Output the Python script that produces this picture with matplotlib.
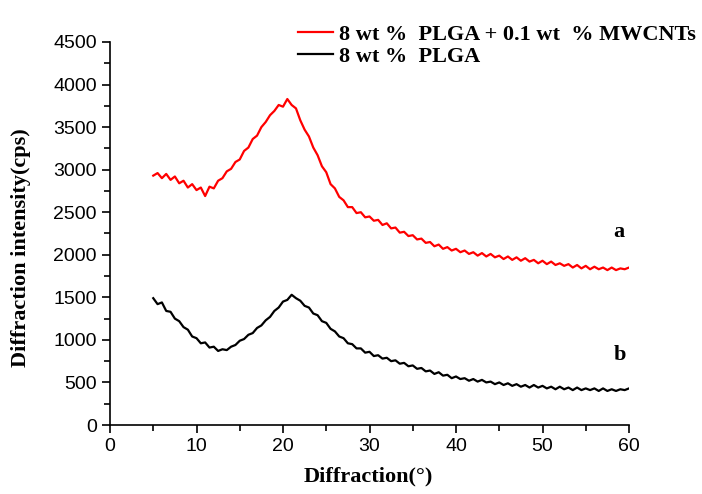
import numpy as np
import matplotlib
matplotlib.use("Agg")
import matplotlib.pyplot as plt
from matplotlib.ticker import MultipleLocator

angle = np.arange(5.0, 60.25, 0.5)

red_a = [2930, 2960, 2900, 2950, 2880, 2920, 2840, 2870, 2790, 2830,
         2760, 2790, 2690, 2800, 2780, 2870, 2900, 2980, 3010, 3090,
         3120, 3220, 3260, 3360, 3400, 3500, 3560, 3640, 3690, 3760,
         3740, 3830, 3760, 3720, 3580, 3470, 3390, 3260, 3170, 3040,
         2970, 2830, 2780, 2680, 2640, 2560, 2560, 2490, 2500, 2440,
         2450, 2400, 2410, 2350, 2370, 2310, 2320, 2260, 2270, 2220,
         2230, 2180, 2190, 2140, 2150, 2100, 2120, 2070, 2090, 2050,
         2070, 2030, 2050, 2010, 2030, 1990, 2020, 1980, 2010, 1970,
         1990, 1950, 1980, 1940, 1970, 1930, 1960, 1920, 1940, 1900,
         1930, 1890, 1920, 1880, 1900, 1870, 1890, 1850, 1880, 1840,
         1870, 1830, 1860, 1830, 1850, 1820, 1850, 1820, 1840, 1830,
         1850]

black_b = [1490, 1420, 1440, 1340, 1330, 1250, 1220, 1150, 1120, 1040,
           1020, 960, 970, 910, 920, 870, 890, 880, 920, 940,
           990, 1010, 1060, 1080, 1140, 1170, 1230, 1270, 1340, 1380,
           1450, 1470, 1530, 1490, 1460, 1400, 1380, 1310, 1290, 1220,
           1200, 1130, 1100, 1040, 1020, 960, 950, 900, 900, 850,
           860, 810, 820, 780, 790, 750, 760, 720, 730, 690,
           700, 660, 670, 630, 640, 600, 620, 580, 590, 550,
           570, 540, 550, 520, 540, 510, 530, 500, 510, 480,
           500, 470, 490, 460, 480, 450, 470, 440, 470, 440,
           460, 430, 450, 420, 450, 420, 440, 410, 440, 410,
           430, 410, 430, 400, 430, 400, 420, 400, 420, 410,
           430]

labels = ["8 wt %  PLGA + 0.1 wt  % MWCNTs", "8 wt %  PLGA"]
assert len(angle) == len(red_a) == len(black_b)

serif = ["Liberation Serif", "DejaVu Serif"]
sans = ["Liberation Sans", "DejaVu Sans"]

fig = plt.figure(figsize=(7.02, 4.94), dpi=100)
ax = fig.add_axes([110/702, 1-425/494, (629-110)/702, (425-42)/494])

l1, = ax.plot(angle, red_a, color="#ff0000", lw=1.6)
l2, = ax.plot(angle, black_b, color="black", lw=1.6)

ax.set_xlim(0, 60)
ax.set_ylim(0, 4500)
ax.xaxis.set_major_locator(MultipleLocator(10))
ax.xaxis.set_minor_locator(MultipleLocator(5))
ax.yaxis.set_major_locator(MultipleLocator(500))
ax.yaxis.set_minor_locator(MultipleLocator(250))
ax.spines["top"].set_visible(False)
ax.spines["right"].set_visible(False)
for s in ("left", "bottom"):
    ax.spines[s].set_linewidth(1.2)
ax.tick_params(which="major", direction="out", length=6, width=1.2)
ax.tick_params(which="minor", direction="out", length=4, width=1.2)
for lab in ax.get_xticklabels() + ax.get_yticklabels():
    lab.set_family(sans)
    lab.set_fontsize(14)

ax.set_xlabel("Diffraction(°)", family=serif, fontweight="bold", fontsize=16)
ax.set_ylabel("Diffraction intensity(cps)", family=serif, fontweight="bold", fontsize=16)
ax.xaxis.set_label_coords((368 - 110) / 519, -(466 - 425) / 383)
ax.yaxis.set_label_coords(-(110 - 31) / 519, (425 - 248) / 383)

ax.text(58.8, 2270, "a", family=serif, fontweight="bold", fontsize=16, ha="center", va="center")
ax.text(59.0, 820, "b", family=serif, fontweight="bold", fontsize=16, ha="center", va="center")

fig.legend([l1, l2], labels, loc="upper left", bbox_to_anchor=(282/702, 1-9/494),
           frameon=False, prop={"family": serif, "weight": "bold", "size": 16},
           handlelength=1.6, handletextpad=0.25, labelspacing=0.05, borderpad=0.2)

fig.savefig("out.png", dpi=100)
